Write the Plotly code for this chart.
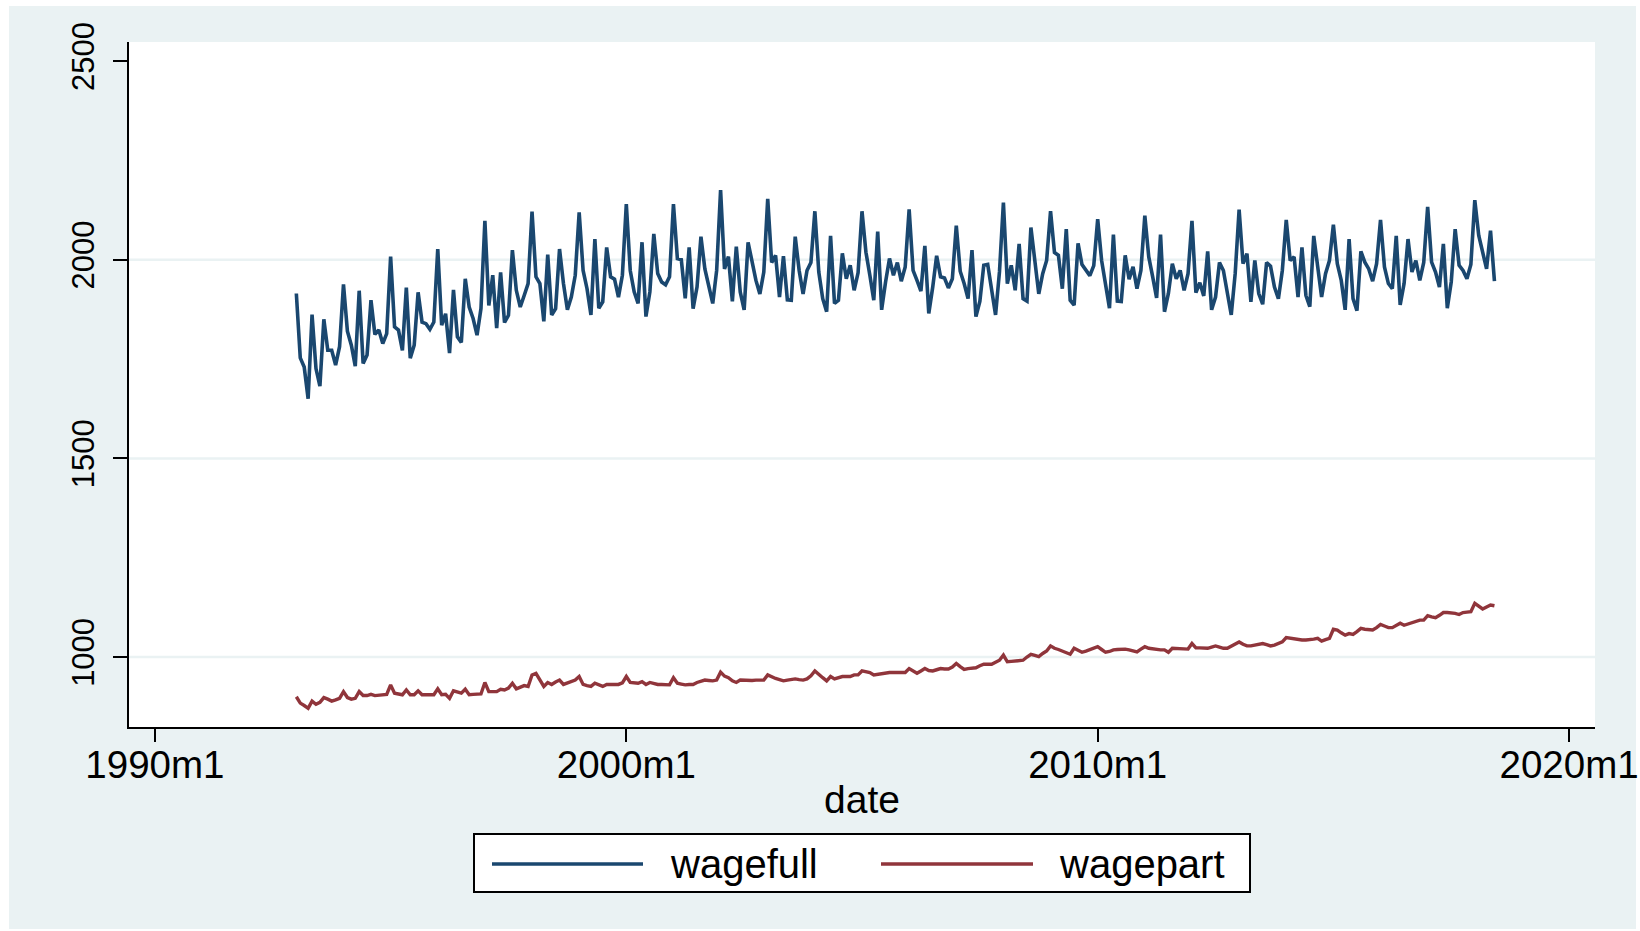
import plotly.graph_objects as go

# ---------------- data (Stata %tm monthly, 1993m1 .. 2018m6) ----------------
start_month = 396  # 1993m1 as months since 1960m1
wagefull = [
    1915, 1753, 1730, 1650, 1862, 1726, 1682, 1850, 1772, 1772, 1735, 1781,
    1938, 1820, 1785, 1732, 1922, 1739, 1760, 1898, 1812, 1823, 1789, 1814,
    2008, 1831, 1823, 1772, 1930, 1752, 1785, 1918, 1843, 1839, 1825, 1843,
    2027, 1835, 1864, 1765, 1924, 1806, 1792, 1952, 1881, 1852, 1810, 1877,
    2098, 1885, 1961, 1828, 1968, 1842, 1860, 2024, 1923, 1881, 1910, 1940,
    2121, 1957, 1940, 1845, 2013, 1861, 1877, 2027, 1940, 1874, 1906, 1961,
    2119, 1973, 1927, 1861, 2052, 1878, 1894, 2031, 1957, 1951, 1906, 1961,
    2140, 1973, 1919, 1890, 2044, 1857, 1919, 2065, 1965, 1944, 1937, 1957,
    2140, 2003, 2000, 1903, 2031, 1877, 1931, 2058, 1977, 1931, 1890, 1973,
    2175, 1977, 2008, 1895, 2033, 1919, 1874, 2044, 1990, 1948, 1914, 1969,
    2153, 1993, 2011, 1906, 2009, 1899, 1898, 2058, 1973, 1914, 1973, 1993,
    2122, 1969, 1902, 1869, 2060, 1890, 1898, 2016, 1952, 1986, 1923, 1967,
    2122, 2019, 1961, 1898, 2071, 1874, 1944, 2003, 1961, 1993, 1946, 1982,
    2127, 1973, 1948, 1921, 2035, 1865, 1931, 2010, 1957, 1954, 1929, 1952,
    2086, 1971, 1940, 1902, 2024, 1857, 1895, 1986, 1988, 1923, 1861, 1970,
    2144, 1940, 1986, 1923, 2040, 1902, 1896, 2081, 1998, 1914, 1965, 1998,
    2122, 2018, 2011, 1927, 2077, 1898, 1886, 2041, 1988, 1973, 1960, 1985,
    2102, 1998, 1944, 1878, 2063, 1896, 1895, 2011, 1951, 1982, 1927, 1973,
    2111, 2007, 1957, 1904, 2063, 1869, 1915, 1990, 1952, 1973, 1923, 1965,
    2098, 1917, 1942, 1909, 2021, 1874, 1906, 1993, 1973, 1919, 1861, 1965,
    2126, 1990, 2015, 1894, 1998, 1915, 1888, 1993, 1984, 1931, 1902, 1973,
    2100, 1998, 2007, 1906, 2031, 1910, 1882, 2060, 1990, 1906, 1965, 1998,
    2088, 1990, 1948, 1874, 2052, 1902, 1872, 2021, 1994, 1977, 1946, 1990,
    2100, 1982, 1940, 1927, 2060, 1886, 1940, 2052, 1969, 1998, 1948, 1993,
    2133, 1994, 1969, 1931, 2040, 1878, 1944, 2077, 1986, 1973, 1952, 1988,
    2150, 2061, 2019, 1977, 2073, 1946,
]
wagepart = [
    900, 884, 878, 871, 889, 881, 886, 898, 894, 889, 892, 896,
    913, 898, 894, 896, 913, 903, 903, 906, 903, 904, 905, 906,
    930, 909, 907, 905, 917, 905, 905, 915, 905, 905, 905, 905,
    920, 905, 906, 896, 915, 911, 909, 919, 905, 906, 906, 907,
    936, 913, 913, 913, 919, 917, 922, 934, 920, 924, 928, 926,
    955, 959, 942, 926, 936, 931, 937, 942, 931, 935, 940, 942,
    951, 931, 928, 926, 934, 930, 926, 931, 931, 931, 931, 935,
    951, 936, 935, 934, 938, 931, 936, 933, 931, 931, 930, 930,
    948, 934, 932, 930, 931, 931, 936, 938, 942, 941, 940, 942,
    962, 952, 948, 940, 936, 942, 941, 940, 941, 942, 942, 942,
    955, 950, 946, 943, 940, 942, 944, 945, 943, 942, 945, 953,
    965, 955, 948, 940, 951, 945, 948, 951, 951, 951, 955, 955,
    965, 963, 961, 955, 957, 959, 960, 961, 961, 961, 961, 961,
    971, 966, 959, 965, 971, 966, 965, 968, 971, 970, 970, 975,
    984, 976, 969, 971, 973, 973, 978, 982, 982, 982, 987, 992,
    1005, 988, 989, 990, 991, 992, 1000, 1007, 1004, 1001, 1009, 1015,
    1028, 1022, 1019, 1015, 1011, 1007, 1022, 1017, 1012, 1015, 1018, 1022,
    1026, 1019, 1012, 1014, 1018, 1019, 1020, 1020, 1018, 1016, 1013, 1020,
    1026, 1022, 1020, 1018, 1018, 1018, 1012, 1022, 1021, 1021, 1020, 1020,
    1034, 1023, 1023, 1022, 1022, 1025, 1028, 1025, 1022, 1022, 1028, 1033,
    1038, 1032, 1028, 1028, 1030, 1030, 1034, 1031, 1028, 1030, 1034, 1038,
    1049, 1047, 1045, 1044, 1043, 1043, 1043, 1045, 1047, 1040, 1044, 1047,
    1070, 1068, 1061, 1055, 1059, 1057, 1064, 1072, 1070, 1069, 1068, 1074,
    1082, 1078, 1074, 1074, 1079, 1085, 1080, 1083, 1087, 1090, 1093, 1093,
    1104, 1101, 1099, 1105, 1112, 1112, 1112, 1110, 1107, 1112, 1113, 1114,
    1135, 1128, 1121, 1126, 1131, 1129,
]
x_tick_vals = [360, 480, 600, 720]
x_tick_text = ["1990m1", "2000m1", "2010m1", "2020m1"]
y_tick_vals = [1000, 1500, 2000, 2500]
y_grid_vals = [1000, 1500, 2000]
series_names = ["wagefull", "wagepart"]

months = [start_month + i for i in range(len(wagefull))]

# ---------------- style ----------------
W, H = 1640, 931
ML, MR, MT, MB = 129, 45, 42, 204
PW, PH = W - ML - MR, H - MT - MB
NAVY = "#1a476f"
MAROON = "#90353b"
BG = "#eaf2f3"
FONT = "Liberation Sans, Arial, sans-serif"


def px_x(px):
    return (px - ML) / PW


def px_y(py):
    return (H - MB - py) / PH


fig = go.Figure()
fig.add_trace(go.Scatter(x=months, y=wagefull, mode="lines", name=series_names[0],
                         line=dict(color=NAVY, width=3.6), showlegend=False))
fig.add_trace(go.Scatter(x=months, y=wagepart, mode="lines", name=series_names[1],
                         line=dict(color=MAROON, width=3.4), showlegend=False))

shapes = [
    dict(type="rect", xref="paper", yref="paper", x0=px_x(9), x1=px_x(1636),
         y0=px_y(929), y1=px_y(6), fillcolor=BG, line=dict(width=0), layer="below"),
    dict(type="rect", xref="paper", yref="paper", x0=0, x1=1, y0=0, y1=1,
         fillcolor="white", line=dict(width=0), layer="below"),
]
for g in y_grid_vals:
    shapes.append(dict(type="line", xref="paper", yref="y", x0=0, x1=1, y0=g, y1=g,
                       line=dict(color=BG, width=2.5), layer="below"))

# legend box (Stata style)
leg_y = 864
shapes.append(dict(type="rect", xref="paper", yref="paper",
                   x0=px_x(474), x1=px_x(1250), y0=px_y(892), y1=px_y(834),
                   fillcolor="white", line=dict(color="black", width=2)))
shapes.append(dict(type="line", xref="paper", yref="paper",
                   x0=px_x(492), x1=px_x(643), y0=px_y(leg_y), y1=px_y(leg_y),
                   line=dict(color=NAVY, width=3.5)))
shapes.append(dict(type="line", xref="paper", yref="paper",
                   x0=px_x(881), x1=px_x(1033), y0=px_y(leg_y), y1=px_y(leg_y),
                   line=dict(color=MAROON, width=3.5)))

annotations = [
    dict(text=series_names[0], xref="paper", yref="paper", x=px_x(668), y=px_y(leg_y),
         xanchor="left", yanchor="middle", showarrow=False,
         font=dict(family=FONT, size=40, color="black")),
    dict(text=series_names[1], xref="paper", yref="paper", x=px_x(1057), y=px_y(leg_y),
         xanchor="left", yanchor="middle", showarrow=False,
         font=dict(family=FONT, size=40, color="black")),
]

fig.update_layout(
    width=W, height=H, autosize=False,
    margin=dict(l=ML, r=MR, t=MT, b=MB, pad=0, autoexpand=False),
    paper_bgcolor="white", plot_bgcolor="white",
    shapes=shapes, annotations=annotations,
    showlegend=False,
    xaxis=dict(
        range=[353.4, 726.6], tickmode="array", tickvals=x_tick_vals, ticktext=x_tick_text,
        showgrid=False, zeroline=False, showline=True, linecolor="black", linewidth=2,
        ticks="outside", ticklen=13, tickwidth=2, tickcolor="black",
        tickfont=dict(family=FONT, size=38.5, color="black"),
        ticklabeloverflow="allow", ticklabelstandoff=-10, automargin=False,
        title=dict(text="date", font=dict(family=FONT, size=39, color="black"), standoff=0),
    ),
    yaxis=dict(
        range=[823.9, 2548], tickmode="array", tickvals=y_tick_vals,
        showgrid=False, zeroline=False, showline=True, linecolor="black", linewidth=2,
        ticks="outside", ticklen=14, tickwidth=2, tickcolor="black", tickangle=-90,
        tickfont=dict(family=FONT, size=31, color="black"),
        ticklabelstandoff=7, automargin=False,
    ),
)

fig.write_html(
    "out.html", config={"displayModeBar": False},
    post_script="document.body.style.margin='0';document.body.style.overflow='hidden';",
)
